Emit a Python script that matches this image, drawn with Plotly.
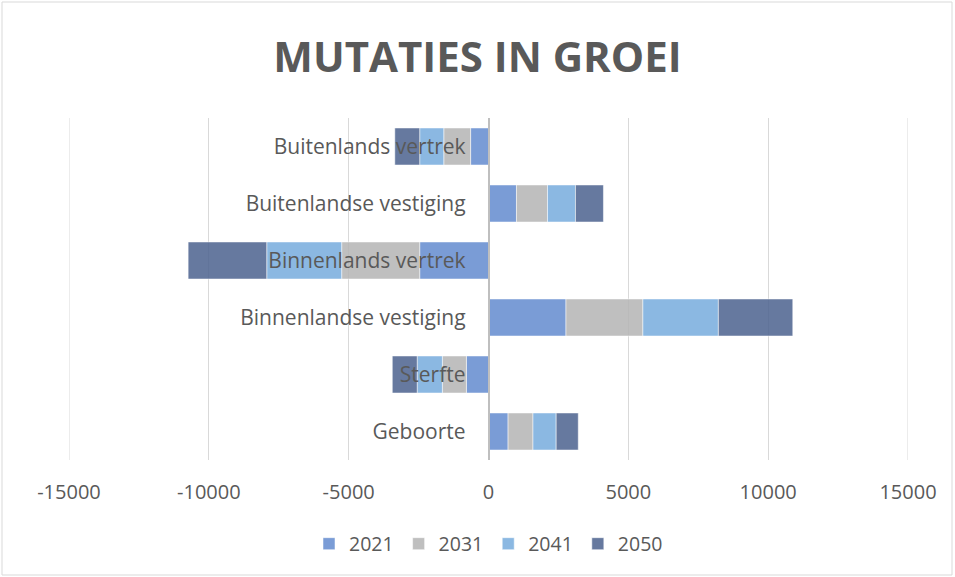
import plotly.graph_objects as go

categories = ["Geboorte", "Sterfte", "Binnenlandse vestiging", "Binnenlands vertrek",
              "Buitenlandse vestiging", "Buitenlands vertrek"]
years = ["2021", "2031", "2041", "2050"]
v2021 = [700, -790, 2770, -2460, 1000, -640]
v2031 = [890, -860, 2750, -2790, 1110, -960]
v2041 = [830, -900, 2700, -2680, 1000, -860]
v2050 = [790, -890, 2660, -2810, 1000, -890]
tick_vals = [-15000, -10000, -5000, 0, 5000, 10000, 15000]
tick_text = ["-15000", "-10000", "-5000", "0", "5000", "10000", "15000"]

series = [v2021, v2031, v2041, v2050]
colors = ["rgba(99,139,207,0.85)", "rgba(180,180,180,0.85)",
          "rgba(119,172,221,0.85)", "rgba(75,97,142,0.85)"]

FONT = "Open Sans"
GREY = "#595959"
GRID = "#D9D9D9"

fig = go.Figure()
for name, vals, col in zip(years, series, colors):
    fig.add_trace(go.Bar(
        y=categories, x=vals, name=name, orientation="h",
        marker=dict(color=col, line=dict(color="rgba(255,255,255,0.5)", width=1)),
    ))

W, H = 955, 577
L, R, T, B = 69, 47, 118, 117
pw, ph = W - L - R, H - T - B

# edge gridlines (plotly drops grid lines lying on the plot-area border)
edge_lines = [dict(type="line", xref="x", yref="paper", x0=v, x1=v, y0=0, y1=1,
                   line=dict(color=GRID, width=1), layer="below")
              for v in (tick_vals[0], tick_vals[-1])]

fig.update_layout(
    width=W, height=H,
    barmode="relative", bargap=0.35,
    margin=dict(l=L, r=R, t=T, b=B, autoexpand=False),
    paper_bgcolor="white", plot_bgcolor="white",
    font=dict(family=FONT, color=GREY),
    title=dict(text="<b>MUTATIES IN GROEI</b>", x=0.5, xanchor="center",
               y=1 - 57 / H, yanchor="middle",
               font=dict(family=FONT, size=42, color=GREY)),
    xaxis=dict(range=[-15000, 15000], tickvals=tick_vals, ticktext=tick_text,
               showgrid=True, gridcolor=GRID, gridwidth=1, zeroline=False,
               ticks="outside", ticklen=14, tickcolor="rgba(0,0,0,0)",
               tickfont=dict(size=20, color=GREY), showline=False, fixedrange=True,
               automargin=False),
    yaxis=dict(anchor="free", position=0.5, showline=True, linecolor="#BFBFBF",
               linewidth=1.5, showgrid=False, ticks="", ticklabelstandoff=18,
               tickfont=dict(size=21, color=GREY), fixedrange=True, automargin=False),
    legend=dict(orientation="h", x=0.5, xanchor="center", y=-(544 - (T + ph)) / ph,
                yanchor="middle", font=dict(size=19.5, color=GREY), traceorder="normal",
                itemwidth=30),
    showlegend=True,
    shapes=[dict(type="rect", xref="paper", yref="paper",
                 x0=-(L - 2) / pw, x1=1 + (R - 3) / pw,
                 y0=-(B - 2) / ph, y1=1 + (T - 2) / ph,
                 line=dict(color=GRID, width=1), layer="below")] + edge_lines,
)

fig.write_html("out.html", config={"displayModeBar": False},
               post_script="document.body.style.margin='0';document.body.style.overflow='hidden';")
